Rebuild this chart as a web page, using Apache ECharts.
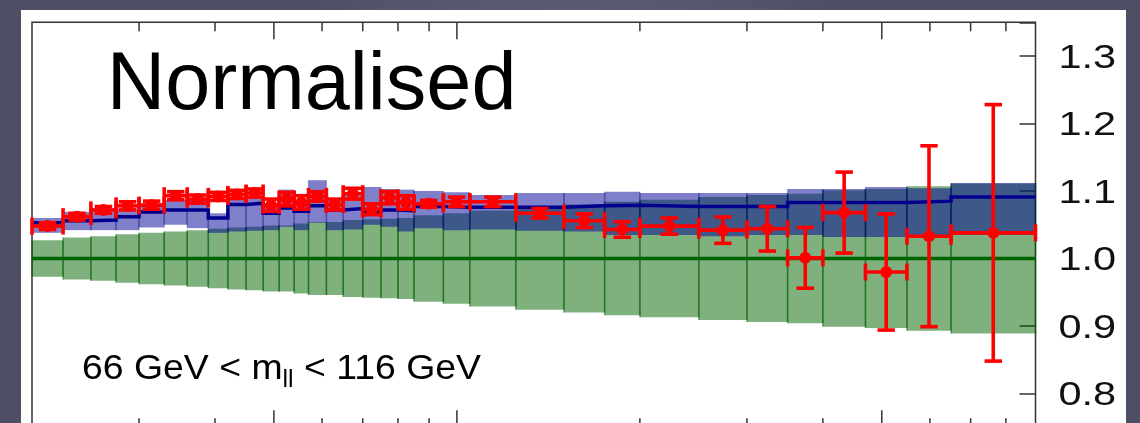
<!DOCTYPE html>
<html><head><meta charset="utf-8">
<script src="https://cdn.jsdelivr.net/npm/echarts@6/dist/echarts.min.js"></script>
<style>html,body{margin:0;padding:0;background:#56566d;}#c{width:1140px;height:423px;}</style>
</head><body><div id="c"></div>
<script>
// bin edges (phi*-like log axis)
const binEdges = [0.004, 0.0045, 0.005, 0.0055, 0.006, 0.0066, 0.0072, 0.0078, 0.0084, 0.009, 0.0096, 0.0102, 0.0108, 0.0114, 0.0122, 0.013, 0.014, 0.015, 0.016, 0.017, 0.019, 0.021, 0.025, 0.030, 0.035, 0.040, 0.050, 0.060, 0.070, 0.080, 0.094, 0.110, 0.130, 0.179];
// green reference band (half width around 1)
const greenHalfWidth = [0.027, 0.031, 0.033, 0.036, 0.038, 0.040, 0.042, 0.044, 0.046, 0.047, 0.049, 0.049, 0.052, 0.054, 0.054, 0.057, 0.058, 0.059, 0.060, 0.064, 0.067, 0.071, 0.076, 0.080, 0.084, 0.087, 0.091, 0.094, 0.096, 0.101, 0.103, 0.107, 0.111];
// blue prediction
const blueCentral = [1.053, 1.056, 1.057, 1.062, 1.069, 1.072, 1.072, 1.060, 1.080, 1.082, 1.067, 1.075, 1.070, 1.078, 1.072, 1.074, 1.069, 1.072, 1.071, 1.077, 1.076, 1.076, 1.076, 1.078, 1.079, 1.077, 1.077, 1.077, 1.083, 1.083, 1.083, 1.085, 1.091];
const blueUpper = [1.060, 1.069, 1.072, 1.074, 1.082, 1.087, 1.087, 1.067, 1.088, 1.090, 1.079, 1.102, 1.082, 1.116, 1.087, 1.094, 1.106, 1.103, 1.102, 1.100, 1.098, 1.094, 1.097, 1.097, 1.099, 1.097, 1.097, 1.097, 1.103, 1.103, 1.106, 1.104, 1.112];
const blueLower = [1.038, 1.042, 1.042, 1.042, 1.046, 1.050, 1.045, 1.038, 1.040, 1.041, 1.042, 1.047, 1.042, 1.053, 1.042, 1.043, 1.050, 1.047, 1.040, 1.045, 1.042, 1.043, 1.041, 1.040, 1.035, 1.035, 1.033, 1.035, 1.035, 1.032, 1.032, 1.032, 1.035];
// red data
const dataValue = [1.048, 1.062, 1.072, 1.078, 1.079, 1.093, 1.088, 1.092, 1.095, 1.097, 1.079, 1.088, 1.083, 1.092, 1.080, 1.096, 1.073, 1.090, 1.083, 1.081, 1.084, 1.084, 1.067, 1.056, 1.043, 1.048, 1.042, 1.044, 1.001, 1.068, 0.980, 1.033, 1.038];
const dataError = [0.005, 0.005, 0.005, 0.006, 0.006, 0.006, 0.006, 0.006, 0.006, 0.006, 0.009, 0.010, 0.010, 0.007, 0.008, 0.008, 0.008, 0.009, 0.010, 0.005, 0.007, 0.007, 0.007, 0.010, 0.0115, 0.012, 0.0195, 0.033, 0.045, 0.060, 0.086, 0.134, 0.190];
const refLevel = 1.0;
const xMajorTicks = [0.01, 0.02, 0.1];
const xMinorTicks = [0.006, 0.008, 0.012, 0.014, 0.016, 0.018, 0.04, 0.06, 0.08, 0.12, 0.14, 0.16];
const yTickLabels = [0.8, 0.9, 1.0, 1.1, 1.2, 1.3];
const yMin = 0.75, yMax = 1.35, yStep = 0.1;

const FONT = '"Liberation Sans", Arial, Helvetica, sans-serif';
const nBins = binEdges.length - 1;
const greenData = greenHalfWidth.map((h, i) => [binEdges[i], binEdges[i + 1], h]);
const blueBandData = blueUpper.map((u, i) => [binEdges[i], binEdges[i + 1], u, blueLower[i]]);
const redData = dataValue.map((v, i) => [binEdges[i], binEdges[i + 1], v, dataError[i]]);
const blueSteps = [];
blueCentral.forEach((v, i) => { blueSteps.push([binEdges[i], v]); blueSteps.push([binEdges[i + 1], v]); });

function bandItem(fill, sideStroke) {
  return function (params, api) {
    const lo = api.value(0), hi = api.value(1);
    let top, bot;
    if (params.seriesName === 'green') { top = refLevel + api.value(2); bot = refLevel - api.value(2); }
    else { top = api.value(2); bot = api.value(3); }
    const a = api.coord([lo, top]), b = api.coord([hi, bot]);
    const ch = [{ type: 'rect', shape: { x: a[0], y: a[1], width: b[0] - a[0], height: b[1] - a[1] }, style: { fill: fill } }];
    if (sideStroke) {
      ch.push({ type: 'line', shape: { x1: a[0], y1: a[1], x2: a[0], y2: b[1] }, style: { stroke: sideStroke, lineWidth: 1.5 } });
      ch.push({ type: 'line', shape: { x1: b[0], y1: a[1], x2: b[0], y2: b[1] }, style: { stroke: sideStroke, lineWidth: 1.5 } });
    }
    return { type: 'group', children: ch };
  };
}

function redItem(params, api) {
  const lo = api.value(0), hi = api.value(1), v = api.value(2), e = api.value(3);
  const pL = api.coord([lo, v]), pR = api.coord([hi, v]);
  const xm = (pL[0] + pR[0]) / 2, y = pL[1];
  const yT = api.coord([lo, v + e])[1], yB = api.coord([lo, v - e])[1];
  const st = { stroke: '#ff0000', lineWidth: 3.6 };
  const capH = 8.5, capW = 8.7;
  return { type: 'group', children: [
    { type: 'line', shape: { x1: pL[0], y1: y, x2: pR[0], y2: y }, style: st },
    { type: 'line', shape: { x1: pL[0], y1: y - capH, x2: pL[0], y2: y + capH }, style: st },
    { type: 'line', shape: { x1: pR[0], y1: y - capH, x2: pR[0], y2: y + capH }, style: st },
    { type: 'line', shape: { x1: xm, y1: yT, x2: xm, y2: yB }, style: st },
    { type: 'line', shape: { x1: xm - capW, y1: yT, x2: xm + capW, y2: yT }, style: st },
    { type: 'line', shape: { x1: xm - capW, y1: yB, x2: xm + capW, y2: yB }, style: st },
    { type: 'circle', shape: { cx: xm, cy: y, r: 6 }, style: { fill: '#ff0000' } }
  ] };
}

function tickItem(len) {
  return function (params, api) {
    const v = api.value(0);
    const t = api.coord([v, yMax]), b = api.coord([v, yMin]);
    const st = { stroke: '#333', lineWidth: 1.5 };
    return { type: 'group', children: [
      { type: 'line', shape: { x1: t[0], y1: t[1], x2: t[0], y2: t[1] + len }, style: st },
      { type: 'line', shape: { x1: b[0], y1: b[1], x2: b[0], y2: b[1] - len }, style: st }
    ] };
  };
}

// text layout helpers
const mctx = document.createElement('canvas').getContext('2d');
function tw(t, px) { mctx.font = px + 'px ' + FONT; return mctx.measureText(t).width; }
const capPx = 34.5, subPx = 23;
const t1 = '66 GeV < m', t2 = 'll', t3 = ' < 116 GeV';
const w1 = tw(t1, capPx), w2 = tw(t2, subPx), w3 = tw(t3, capPx);
const txL = 82, txR = 481;
const sx = (txR - txL) / (w1 + w2 + w3);

const chart = echarts.init(document.getElementById('c'), null, { renderer: 'canvas' });
chart.setOption({
  animation: false,
  backgroundColor: { type: 'radial', x: 0.5, y: 0.5, r: 0.8, colorStops: [{ offset: 0, color: '#6c6c86' }, { offset: 1, color: '#4e4e65' }] },
  graphic: [
    { id: 'panel', type: 'rect', z: -10, shape: { x: 21, y: 10, width: 1105, height: 430 }, style: { fill: '#ffffff' } },
    { id: 'title', type: 'text', z: 100, x: 106.8, y: 86.7, style: { text: 'Normalised', font: '81px ' + FONT, fill: '#000', verticalAlign: 'middle', align: 'left' } },
    { id: 'm1', type: 'text', z: 100, x: txL, y: 369.9, scaleX: sx, style: { text: t1, font: capPx + 'px ' + FONT, fill: '#000', verticalAlign: 'middle', align: 'left' } },
    { id: 'm2', type: 'text', z: 100, x: txL + w1 * sx, y: 380.3, scaleX: sx, style: { text: t2, font: subPx + 'px ' + FONT, fill: '#000', verticalAlign: 'middle', align: 'left' } },
    { id: 'm3', type: 'text', z: 100, x: txL + (w1 + w2) * sx, y: 369.9, scaleX: sx, style: { text: t3, font: capPx + 'px ' + FONT, fill: '#000', verticalAlign: 'middle', align: 'left' } }
  ],
  grid: { left: 32, top: 22.25, width: 1003.5, height: 405, show: true, backgroundColor: '#ffffff', borderColor: '#333', borderWidth: 1.5, containLabel: false, outerBoundsMode: 'none' },
  xAxis: { type: 'log', logBase: 10, min: binEdges[0], max: binEdges[nBins], axisLine: { show: false }, axisTick: { show: false }, axisLabel: { show: false }, splitLine: { show: false } },
  yAxis: { type: 'value', position: 'right', min: yMin, max: yMax, minInterval: yStep, maxInterval: yStep,
    axisLine: { show: false }, splitLine: { show: false },
    axisTick: { inside: true, length: 16, lineStyle: { color: '#333', width: 1.5 } },
    axisLabel: { show: false } },
  series: [
    { name: 'green', type: 'custom', renderItem: bandItem('rgba(0,100,0,0.5)', 'rgba(0,100,0,0.5)'), data: greenData, encode: { x: [0, 1], y: 2 }, z: 1, silent: true },
    { name: 'blue', type: 'custom', renderItem: bandItem('rgba(0,0,150,0.5)', 'rgba(0,0,120,0.25)'), data: blueBandData, encode: { x: [0, 1], y: [2, 3] }, z: 2, silent: true },
    { name: 'ref', type: 'line', data: [[binEdges[0], refLevel], [binEdges[nBins], refLevel]], symbol: 'none', lineStyle: { color: '#006400', width: 3.5 }, z: 3, silent: true },
    { name: 'pred', type: 'line', data: blueSteps, symbol: 'none', lineStyle: { color: '#00008c', width: 3.5, join: 'miter' }, z: 4, silent: true },
    { name: 'data', type: 'custom', renderItem: redItem, data: redData, encode: { x: [0, 1], y: 2 }, z: 5, silent: true },
    { name: 'majorTicks', type: 'custom', renderItem: tickItem(17), data: xMajorTicks.map(v => [v, 1]), encode: { x: 0, y: 1 }, z: 6, silent: true },
    { name: 'minorTicks', type: 'custom', renderItem: tickItem(9), data: xMinorTicks.map(v => [v, 1]), encode: { x: 0, y: 1 }, z: 6, silent: true }
  ]
});

// y tick labels placed through the y axis scale (wide glyphs as in the original)
const labPx = 34, labScale = 1.22;
chart.setOption({
  graphic: yTickLabels.map((v, i) => ({
    id: 'ylab' + i, type: 'text', z: 100,
    x: 1058.5, y: chart.convertToPixel({ yAxisIndex: 0 }, v) + 2.3, scaleX: labScale,
    style: { text: v.toFixed(1), font: labPx + 'px ' + FONT, fill: '#111', verticalAlign: 'middle', align: 'left' }
  }))
});
</script></body></html>
